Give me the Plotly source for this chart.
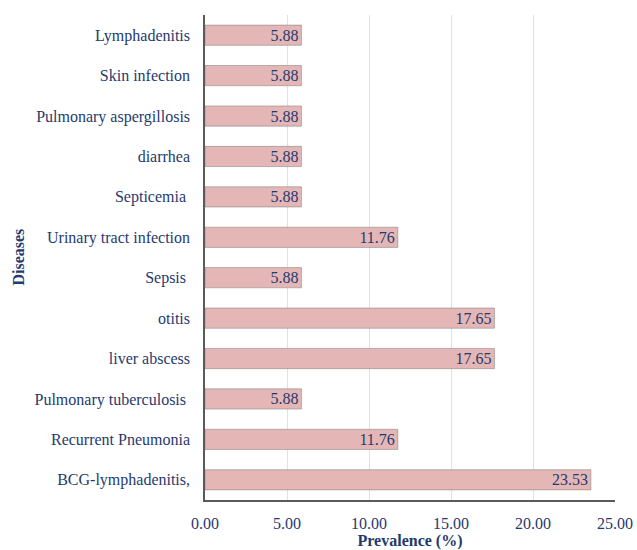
import plotly.graph_objects as go

# Categories listed bottom-to-top as they appear on the y axis
diseases = [
    "BCG-lymphadenitis,",
    "Recurrent Pneumonia",
    "Pulmonary tuberculosis\u00a0",
    "liver abscess",
    "otitis",
    "Sepsis\u00a0",
    "Urinary tract infection",
    "Septicemia\u00a0",
    "diarrhea",
    "Pulmonary aspergillosis",
    "Skin infection",
    "Lymphadenitis",
]
prevalence = [23.53, 11.76, 5.88, 17.65, 17.65, 5.88, 11.76, 5.88, 5.88, 5.88, 5.88, 5.88]
x_ticks = [0, 5, 10, 15, 20, 25]
x_tick_labels = ["0.00", "5.00", "10.00", "15.00", "20.00", "25.00"]

TEXT = "#1F3A6E"
FONT = "Times New Roman"

fig = go.Figure(
    go.Bar(
        x=prevalence,
        y=diseases,
        orientation="h",
        width=0.5,
        marker=dict(color="#E4B7B6", line=dict(color="rgba(110,110,110,0.45)", width=1)),
        text=[f"{v:.2f}" for v in prevalence],
        textposition="inside",
        insidetextanchor="end",
        constraintext="none",
        textfont=dict(family=FONT, size=16, color=TEXT),
        cliponaxis=False,
    )
)

fig.update_layout(
    width=637,
    height=550,
    margin=dict(l=205, r=22, t=15, b=50),
    paper_bgcolor="white",
    plot_bgcolor="white",
    showlegend=False,
    font=dict(family=FONT, size=16, color=TEXT),
    xaxis=dict(
        range=[0, 25],
        tickvals=x_ticks,
        ticktext=x_tick_labels,
        showgrid=True,
        gridcolor="#DAE2F1",
        gridwidth=1,
        zeroline=False,
        showline=True,
        linecolor="#5A5A5A",
        linewidth=1.5,
        ticks="",
        ticklabelstandoff=8,
        tickfont=dict(family=FONT, size=16, color=TEXT),
        title=dict(
            text="<b>Prevalence (%)</b>",
            font=dict(family=FONT, size=16, color=TEXT),
            standoff=7,
        ),
        automargin=False,
    ),
    yaxis=dict(
        showgrid=False,
        zeroline=False,
        showline=True,
        linecolor="#5A5A5A",
        linewidth=1.5,
        ticks="",
        ticklabelstandoff=10,
        tickfont=dict(family=FONT, size=16, color=TEXT),
        automargin=False,
        range=[-0.5, 11.5],
    ),
    annotations=[
        dict(
            text="<b>Diseases</b>",
            textangle=-90,
            xref="paper",
            yref="paper",
            x=-0.456,
            y=0.5,
            xanchor="center",
            yanchor="middle",
            showarrow=False,
            font=dict(family=FONT, size=16, color=TEXT),
        )
    ],
)

fig.write_html("out.html")
